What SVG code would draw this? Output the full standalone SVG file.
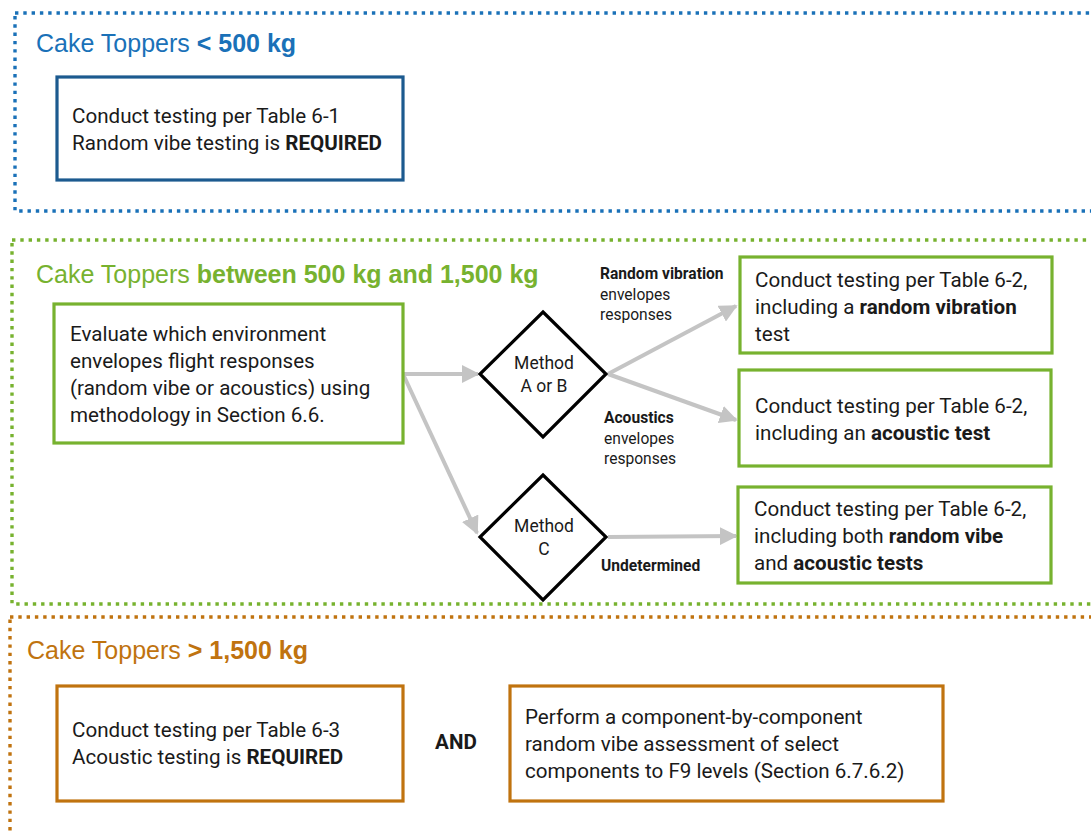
<svg xmlns="http://www.w3.org/2000/svg" width="1091" height="833" viewBox="0 0 1091 833">
<style>
.zone{fill:none;stroke-width:3.4;stroke-dasharray:3.4 4.9}
.title{font-family:"Liberation Sans",Arial,sans-serif;font-size:25px}
.t{font-family:Roboto,"DejaVu Sans",sans-serif;font-size:20.6px;fill:#1a1a1a}
.lbl{font-family:Roboto,"DejaVu Sans",sans-serif;font-size:15.6px;fill:#1a1a1a}
.mt{font-family:Roboto,"DejaVu Sans",sans-serif;font-size:17.5px;fill:#1a1a1a}
.b{font-weight:bold}
.box{fill:#fff;stroke-width:3.2}
.gbox{stroke:#77b22f}
.obox{stroke:#c0730f}
.dia{fill:#fff;stroke:#000;stroke-width:3.2}
.conn{fill:none;stroke:#c4c4c4;stroke-width:4}
</style>
<defs>
<marker id="ah" viewBox="0 0 10 10" refX="9" refY="5" markerWidth="4.5" markerHeight="4.5" markerUnits="strokeWidth" orient="auto">
<path d="M0,0 L10,5 L0,10 z" fill="#c4c4c4"/>
</marker>
</defs>
<rect width="1091" height="833" fill="#fff"/>

<g id="zone-blue">
<rect class="zone" x="15" y="13" width="1100" height="198" stroke="#1a71b8"/>
<text class="title" x="36" y="52" fill="#1a71b8">Cake Toppers <tspan class="b">&lt; 500 kg</tspan></text>
</g>
<g id="zone-green">
<rect class="zone" x="12" y="240" width="1100" height="364" stroke="#77b22f"/>
<text class="title" x="36" y="283" fill="#77b22f">Cake Toppers <tspan class="b">between 500 kg and 1,500 kg</tspan></text>
</g>
<g id="zone-orange">
<rect class="zone" x="10" y="617" width="1100" height="260" stroke="#c0730f"/>
<text class="title" x="27" y="659" fill="#c0730f">Cake Toppers <tspan class="b">&gt; 1,500 kg</tspan></text>
</g>

<g id="connectors">
<line class="conn" x1="403" y1="374" x2="478" y2="374" marker-end="url(#ah)"/>
<line class="conn" x1="403" y1="374" x2="477" y2="533" marker-end="url(#ah)"/>
<line class="conn" x1="608" y1="374" x2="736" y2="306" marker-end="url(#ah)"/>
<line class="conn" x1="608" y1="374" x2="736" y2="420" marker-end="url(#ah)"/>
<line class="conn" x1="608" y1="537" x2="736" y2="536" marker-end="url(#ah)"/>
<text class="lbl b" x="600" y="279">Random vibration</text>
<text class="lbl" x="600" y="300">envelopes</text>
<text class="lbl" x="600" y="320">responses</text>
<text class="lbl b" x="604" y="423">Acoustics</text>
<text class="lbl" x="604" y="444">envelopes</text>
<text class="lbl" x="604" y="464">responses</text>
<text class="lbl b" x="601" y="571">Undetermined</text>
</g>

<g id="n-small">
<rect class="box" x="57" y="77" width="346" height="103" stroke="#1c5a8f"/>
<text class="t" x="72" y="123">Conduct testing per Table 6-1</text>
<text class="t" x="72" y="150">Random vibe testing is <tspan class="b">REQUIRED</tspan></text>
</g>

<g id="n-evaluate">
<rect class="box gbox" x="54" y="304" width="349" height="139"/>
<text class="t" x="70" y="341">Evaluate which environment</text>
<text class="t" x="70" y="368">envelopes flight responses</text>
<text class="t" x="70" y="395">(random vibe or acoustics) using</text>
<text class="t" x="70" y="422">methodology in Section 6.6.</text>
</g>

<g id="n-methodAB">
<polygon class="dia" points="543,312 606,374 543,437 480,374"/>
<text class="mt" x="544" y="369" text-anchor="middle">Method</text>
<text class="mt" x="544" y="392" text-anchor="middle">A or B</text>
</g>

<g id="n-methodC">
<polygon class="dia" points="543,475 606,537 543,600 480,537"/>
<text class="mt" x="544" y="532" text-anchor="middle">Method</text>
<text class="mt" x="544" y="555" text-anchor="middle">C</text>
</g>

<g id="n-random">
<rect class="box gbox" x="740" y="257" width="312" height="96"/>
<text class="t" x="755" y="287">Conduct testing per Table 6-2,</text>
<text class="t" x="755" y="314">including a <tspan class="b">random vibration</tspan></text>
<text class="t" x="755" y="341">test</text>
</g>

<g id="n-acoustic">
<rect class="box gbox" x="739" y="370" width="312" height="96"/>
<text class="t" x="755" y="413">Conduct testing per Table 6-2,</text>
<text class="t" x="755" y="440">including an <tspan class="b">acoustic test</tspan></text>
</g>

<g id="n-both">
<rect class="box gbox" x="738" y="487" width="313" height="96"/>
<text class="t" x="754" y="516">Conduct testing per Table 6-2,</text>
<text class="t" x="754" y="543">including both <tspan class="b">random vibe</tspan></text>
<text class="t" x="754" y="570">and <tspan class="b">acoustic tests</tspan></text>
</g>

<g id="n-large">
<rect class="box obox" x="57" y="686" width="346" height="115"/>
<text class="t" x="72" y="737">Conduct testing per Table 6-3</text>
<text class="t" x="72" y="764">Acoustic testing is <tspan class="b">REQUIRED</tspan></text>
</g>

<g id="n-and">
<text class="t b" x="456" y="749" text-anchor="middle" font-size="17">AND</text>
</g>

<g id="n-component">
<rect class="box obox" x="510" y="686" width="433" height="115"/>
<text class="t" x="525" y="724">Perform a component-by-component</text>
<text class="t" x="525" y="751">random vibe assessment of select</text>
<text class="t" x="525" y="778">components to F9 levels (Section 6.7.6.2)</text>
</g>
</svg>
